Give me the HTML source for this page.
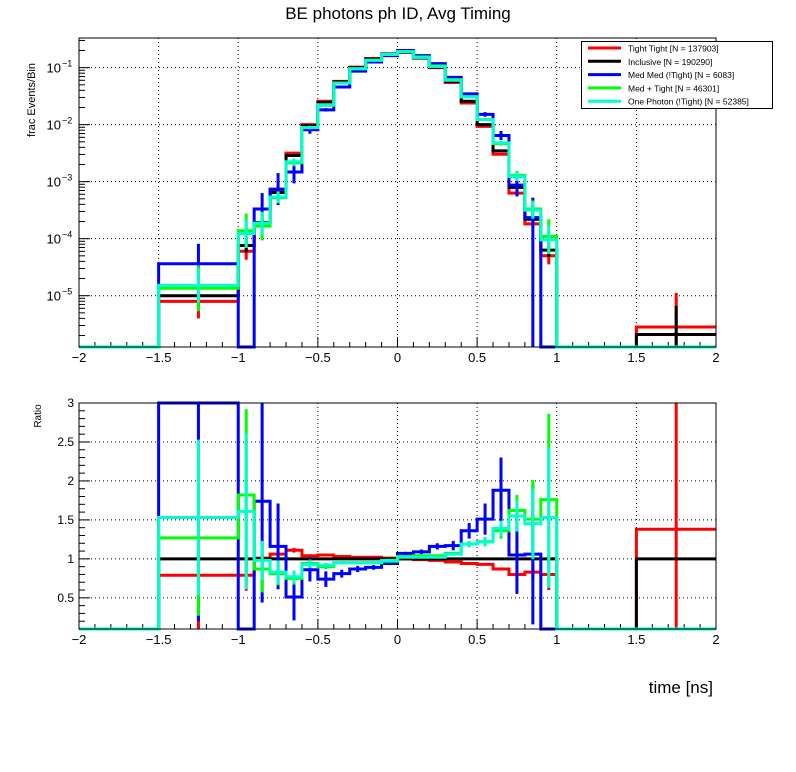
<!DOCTYPE html>
<html><head><meta charset="utf-8"><style>
html,body{margin:0;padding:0;background:#fff;}
svg{display:block;font-family:"Liberation Sans",sans-serif;}
</style></head><body>
<svg id="c" width="796" height="772" xmlns="http://www.w3.org/2000/svg">
<rect width="796" height="772" fill="#fff"/>
<text x="398" y="19" font-size="17" text-anchor="middle">BE photons ph ID, Avg Timing</text>
<g id="topg"></g>
<g id="botg"></g>
<text transform="translate(35,100) rotate(-90)" font-size="11" text-anchor="middle">frac Events/Bin</text>
<text transform="translate(41,416) rotate(-90)" font-size="10" text-anchor="middle">Ratio</text>
<text x="713" y="693" font-size="17" text-anchor="end">time [ns]</text>
<g id="legend">
<rect x="581.5" y="41.5" width="191" height="67" fill="#fff" stroke="#000" stroke-width="1"/>
</g>
</svg>
<script>
const edges=[-2,-1.5,-1,-0.9,-0.8,-0.7,-0.6,-0.5,-0.4,-0.3,-0.2,-0.1,0,0.1,0.2,0.3,0.4,0.5,0.6,0.7,0.8,0.9,1,1.5,2];
const seriesNames=["Tight Tight [N = 137903]","Inclusive [N = 190290]","Med Med (!Tight) [N = 6083]","Med + Tight [N = 46301]","One Photon (!Tight) [N = 52385]"];
const seriesColors=["#ff0000","#000000","#0000ff","#00ff00","#00ffcc"];
const logRed=[null,-5.10,-4.22,-3.72,-3.17,-2.50,-2.00,-1.59,-1.24,-0.99,-0.84,-0.76,-0.73,-0.83,-1.00,-1.26,-1.62,-2.03,-2.52,-3.20,-3.74,-4.30,null,-5.55];
const logBlack=[null,-5.00,-4.12,-3.72,-3.19,-2.54,-2.02,-1.61,-1.25,-1.00,-0.85,-0.76,-0.73,-0.83,-0.99,-1.24,-1.59,-2.00,-2.46,-3.10,-3.66,-4.20,null,-5.68];
const logBlue=[null,-4.44,null,-3.48,-3.13,-2.83,-2.09,-1.74,-1.34,-1.06,-0.90,-0.79,-0.70,-0.79,-0.93,-1.17,-1.46,-1.82,-2.19,-3.06,-3.63,null,null,null];
const logGreen=[null,-4.87,-3.86,-3.78,-3.28,-2.67,-2.05,-1.66,-1.27,-1.02,-0.87,-0.77,-0.72,-0.81,-0.97,-1.21,-1.51,-1.91,-2.33,-2.89,-3.48,-3.96,null,null];
const logCyan=[null,-4.82,-3.91,-3.73,-3.27,-2.65,-2.05,-1.65,-1.27,-1.02,-0.87,-0.77,-0.72,-0.82,-0.98,-1.22,-1.51,-1.91,-2.32,-2.91,-3.50,-4.02,null,null];
const errRed=[0,0.3,0.15,0.06,0.04,0.02,0,0,0,0,0,0,0,0,0,0,0,0,0.02,0.04,0.06,0.15,0,0.6];
const errBlack=[0,0.2,0.12,0.05,0.03,0.02,0,0,0,0,0,0,0,0,0,0,0,0,0.02,0.03,0.05,0.12,0,0.5];
const errBlue=[0,0.35,0,0.28,0.28,0.2,0.07,0.03,0.02,0,0,0,0,0,0,0,0.02,0.04,0.08,0.2,2,0,0,0];
const errGreen=[0,0.4,0.3,0.25,0.1,0.06,0.03,0,0,0,0,0,0,0,0,0,0,0.02,0.04,0.08,0.15,0.3,0,0];
const errCyan=[0,0.3,0.25,0.2,0.1,0.06,0.03,0,0,0,0,0,0,0,0,0,0,0.02,0.04,0.08,0.15,0.25,0,0];
const ratRed=[0,0.79,0.79,1.01,1.06,1.11,1.04,1.05,1.03,1.02,1.02,1.01,1.00,0.99,0.98,0.96,0.94,0.93,0.87,0.80,0.83,0.80,0,1.38];
const ratBlack=[0,1,1,1,1,1,1,1,1,1,1,1,1,1,1,1,1,1,1,1,1,1,0,1];
const ratBlue=[0,3.2,0,1.74,1.16,0.51,0.86,0.74,0.81,0.87,0.89,0.94,1.07,1.09,1.16,1.17,1.36,1.51,1.88,1.05,1.06,0,0,0];
const ratGreen=[0,1.27,1.82,0.87,0.81,0.75,0.94,0.90,0.95,0.95,0.95,0.97,1.03,1.04,1.04,1.07,1.19,1.22,1.36,1.62,1.51,1.76,0,0];
const ratCyan=[0,1.53,1.61,0.98,0.83,0.77,0.93,0.92,0.95,0.95,0.95,0.98,1.02,1.02,1.02,1.06,1.19,1.22,1.39,1.55,1.45,1.53,0,0];
const rerrRed=[0,0.8,0.2,0.05,0.04,0.03,0.02,0.01,0,0,0,0,0,0,0,0,0,0,0.02,0.05,0.1,0.2,0,2];
const rerrBlack=[0,0,0.05,0.03,0.02,0.01,0,0,0,0,0,0,0,0,0,0,0,0,0.01,0.02,0.03,0.05,0,0];
const rerrBlue=[0,3,0,1.3,0.55,0.3,0.15,0.1,0.05,0.04,0.03,0.02,0.02,0.03,0.04,0.06,0.1,0.2,0.42,0.5,0.9,0,0,0];
const rerrGreen=[0,1.0,1.1,0.3,0.15,0.08,0.05,0.03,0.02,0,0,0,0,0,0,0.02,0.04,0.06,0.1,0.2,0.5,1.1,0,0];
const rerrCyan=[0,1.0,1.0,0.25,0.15,0.08,0.05,0.03,0.02,0,0,0,0,0,0,0.02,0.04,0.06,0.1,0.2,0.45,0.9,0,0];
const xTicks=[-2,-1.5,-1,-0.5,0,0.5,1,1.5,2];
const xTickLabels=["\u22122","\u22121.5","\u22121","\u22120.5","0","0.5","1","1.5","2"];
const logTicks=[-1,-2,-3,-4,-5];
const ratTicks=[0.5,1,1.5,2,2.5,3];

const NS="http://www.w3.org/2000/svg";
const X0=79,X1=716,T0=38,T1=347,B0=403,B1=629;
const LOGMIN=-5.9,LOGMAX=-0.48,RMIN=0.1,RMAX=3;
function sx(t){return X0+(t+2)/4*(X1-X0);}
function sy(l){if(l===null)return T1;return Math.max(T0,Math.min(T1,T1-(l-LOGMIN)/(LOGMAX-LOGMIN)*(T1-T0)));}
function ry(r){return Math.max(B0,Math.min(B1,B1-(r-RMIN)/(RMAX-RMIN)*(B1-B0)));}
function el(tag,attrs,parent){const e=document.createElementNS(NS,tag);for(const k in attrs)e.setAttribute(k,attrs[k]);parent.appendChild(e);return e;}
const topG=document.getElementById('topg'),botG=document.getElementById('botg'),svgEl=document.getElementById('c');

function frame(g,y0,y1){
  xTicks.slice(1,-1).forEach(t=>{const l=el('line',{x1:sx(t),x2:sx(t),y1:y0,y2:y1,stroke:'#000','stroke-width':1,'stroke-dasharray':'1,3'},g);
    
    });
  for(let i=0;i<=40;i++){const t=-2+i*0.1;const major=i%5===0;
    const l=el('line',{x1:sx(t),x2:sx(t),y1:y1,y2:y1-(major?10:5),stroke:'#000','stroke-width':1},g);
    
    }
  xTicks.forEach((t,i)=>{const tx=el('text',{x:sx(t),y:y1+15,'font-size':13,'text-anchor':'middle'},g);tx.textContent=xTickLabels[i];
    
    });
}
frame(topG,T0,T1);
frame(botG,B0,B1);
logTicks.forEach(d=>{const y=sy(d);
  const g=el('line',{x1:X0,x2:X1,y1:y,y2:y,stroke:'#000','stroke-width':1,'stroke-dasharray':'1,3'},topG);
  
  
  const tx=el('text',{x:X0-18,y:y+5,'font-size':13,'text-anchor':'end'},topG);tx.textContent='10';
  
  
  const sp=el('text',{x:X0-17,y:y-1,'font-size':9},topG);sp.textContent='\u2212'+(-d);
  
  
});
for(let d=-6;d<=-1;d++){for(let m=1;m<=9;m++){const l=d+Math.log10(m);if(l<LOGMIN||l>LOGMAX)continue;const y=sy(l);
  const t=el('line',{x1:X0,x2:X0+(m===1?11:6),y1:y,y2:y,stroke:'#000','stroke-width':1},topG);
  
  }}
ratTicks.forEach(r=>{const y=ry(r);
  if(r<3){const g=el('line',{x1:X0,x2:X1,y1:y,y2:y,stroke:'#000','stroke-width':1,'stroke-dasharray':'1,3'},botG);
  
  }
  const tx=el('text',{x:X0-5,y:y+4,'font-size':12,'text-anchor':'end'},botG);tx.textContent=String(r);
  
  });
for(let i=1;i<=30;i++){const r=i*0.1;const y=ry(r);const major=i%5===0;
  const t=el('line',{x1:X0,x2:X0+(major?11:6),y1:y,y2:y,stroke:'#000','stroke-width':1},botG);
  
  }

function drawHist(g,vals,errs,color,yf,name,logMode){
  let d='';
  for(let i=0;i<vals.length;i++){const y=yf(vals[i]);
    d+=(i===0?'M':'L')+sx(edges[i])+','+y+'L'+sx(edges[i+1])+','+y;}
  const p=el('path',{d:d,fill:'none',stroke:color,'stroke-width':3},g);
  
  
  for(let i=0;i<vals.length;i++){const v=vals[i],e=errs[i];if(v===null||!e||(!logMode&&v===0))continue;
    const cx=sx((edges[i]+edges[i+1])/2);let ya,yb;
    if(logMode){if(e>=1.5){ya=yf(v+0.35);yb=T1;}else{ya=yf(v+e);yb=yf(v-e);}}else{ya=yf(v+e);yb=yf(v-e);}
    const l=el('line',{x1:cx,x2:cx,y1:ya,y2:yb,stroke:color,'stroke-width':3},g);
    
    }
}
const keys=['tight-tight','inclusive','med-med','med-tight','one-photon'];
const logs=[logRed,logBlack,logBlue,logGreen,logCyan],errsT=[errRed,errBlack,errBlue,errGreen,errCyan];
const rats=[ratRed,ratBlack,ratBlue,ratGreen,ratCyan],errsR=[rerrRed,rerrBlack,rerrBlue,rerrGreen,rerrCyan];
for(let s=0;s<5;s++){drawHist(topG,logs[s],errsT[s],seriesColors[s],sy,keys[s],true);}
for(let s=0;s<5;s++){drawHist(botG,rats[s],errsR[s],seriesColors[s],ry,keys[s]+'-ratio',false);}
[[T0,T1],[B0,B1]].forEach(([a,b])=>{const r=el('rect',{x:X0,y:a,width:X1-X0,height:b-a,fill:'none',stroke:'#000','stroke-width':1},svgEl);
  
  });
const lg=document.getElementById('legend');
svgEl.appendChild(lg);
seriesNames.forEach((n,i)=>{const y=48+i*13.3;
  const l=el('line',{x1:588,x2:621,y1:y,y2:y,stroke:seriesColors[i],'stroke-width':3},lg);
  
  
  const t=el('text',{x:628,y:y+3.5,'font-size':8.5},lg);t.textContent=n;
  
  });
</script>
</body></html>
